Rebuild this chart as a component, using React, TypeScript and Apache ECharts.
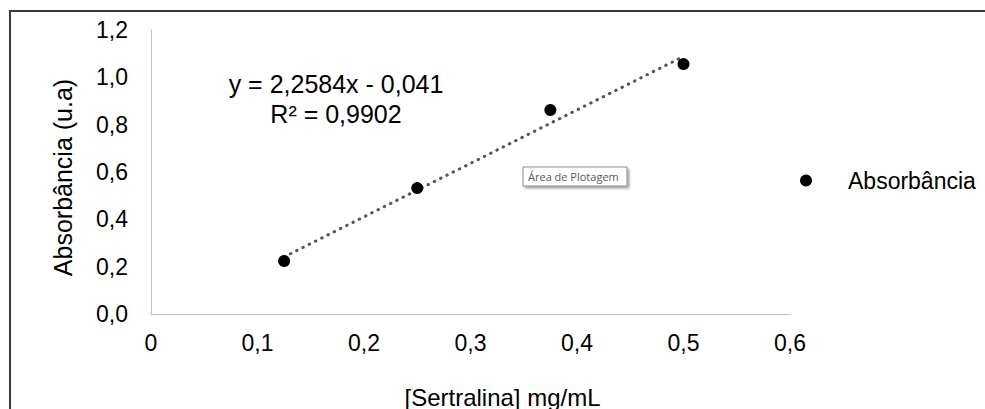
import React, { useEffect, useRef } from "react";
import * as echarts from "echarts";

const concentrations = [0.125, 0.25, 0.375, 0.5];
const absorbance = [0.224, 0.532, 0.862, 1.056];
const trendSlope = 2.2584;
const trendIntercept = -0.041;
const seriesName = "Absorbância";
const xTitle = "[Sertralina] mg/mL";
const yTitle = "Absorbância (u.a)";
const equationText = "y = 2,2584x - 0,041\nR² = 0,9902";
const tooltipText = "Área de Plotagem";

const FONT = "Liberation Sans, Arial, sans-serif";

const fmt = (v: number, zeroPlain: boolean) =>
  zeroPlain && v === 0 ? "0" : v.toFixed(1).replace(".", ",");

export default function App() {
  const ref = useRef<HTMLDivElement>(null);
  useEffect(() => {
    if (!ref.current) return;
    const chart = echarts.init(ref.current, undefined, { renderer: "svg" });
    const xs = [concentrations[0], concentrations[concentrations.length - 1]];
    const trend = xs.map((x) => [x, trendSlope * x + trendIntercept]);
    chart.setOption({
      animation: false,
      backgroundColor: "#ffffff",
      textStyle: { fontFamily: FONT },
      grid: {
        left: 151,
        top: 30,
        right: 195,
        bottom: 95,
        containLabel: false,
        outerBoundsMode: "none",
      },
      xAxis: {
        type: "value",
        min: 0,
        max: 0.6,
        interval: 0.1,
        name: xTitle,
        nameLocation: "middle",
        nameGap: 71,
        nameTextStyle: { fontSize: 24, color: "#000", fontFamily: FONT, padding: [0, 0, 0, 64] },
        axisLine: { show: true, lineStyle: { color: "#c0c0c0", width: 1 } },
        axisTick: { show: false },
        splitLine: { show: false },
        axisLabel: {
          fontSize: 23,
          color: "#000",
          fontFamily: FONT,
          margin: 17,
          formatter: (v: number) => fmt(v, true),
        },
      },
      yAxis: {
        type: "value",
        min: 0,
        max: 1.2,
        interval: 0.2,
        name: yTitle,
        nameLocation: "middle",
        nameGap: 76,
        nameTextStyle: { fontSize: 25, color: "#000", fontFamily: FONT, padding: [0, 11, 0, 0] },
        axisLine: { show: true, lineStyle: { color: "#c0c0c0", width: 1 } },
        axisTick: { show: false },
        splitLine: { show: false },
        axisLabel: {
          fontSize: 23,
          color: "#000",
          fontFamily: FONT,
          margin: 23,
          formatter: (v: number) => fmt(v, false),
        },
      },
      legend: {
        data: [seriesName],
        left: 800,
        top: 169,
        padding: 0,
        icon: "circle",
        itemWidth: 12,
        itemHeight: 12,
        textStyle: { fontSize: 23, color: "#000", fontFamily: FONT, padding: [0, 0, 0, 31] },
      },
      series: [
        {
          name: "Linear",
          type: "line",
          data: trend,
          showSymbol: false,
          symbol: "none",
          lineStyle: { color: "#555555", width: 3, type: [0.5, 6.5], cap: "round" },
          z: 1,
        },
        {
          name: seriesName,
          type: "scatter",
          data: concentrations.map((c, i) => [c, absorbance[i]]),
          symbol: "circle",
          symbolSize: 12,
          itemStyle: { color: "#000000", opacity: 1 },
          z: 2,
        },
      ],
      graphic: [
        {
          type: "rect",
          shape: { x: 10, y: 11, width: 1200, height: 600 },
          style: { fill: "none", stroke: "#3a3a3a", lineWidth: 2 },
          silent: true,
        },
        {
          type: "text",
          x: 336,
          y: 69,
          style: {
            text: equationText,
            fontSize: 25,
            fontFamily: FONT,
            fill: "#000",
            align: "center",
            verticalAlign: "top",
            lineHeight: 30,
          },
        },
        {
          type: "group",
          children: [
            {
              type: "rect",
              shape: { x: 523, y: 167, width: 104, height: 19 },
              style: {
                fill: "#ffffff",
                stroke: "#8a8a8a",
                lineWidth: 1,
                shadowColor: "rgba(0,0,0,0.35)",
                shadowBlur: 2,
                shadowOffsetX: 2,
                shadowOffsetY: 2,
              },
            },
            {
              type: "text",
              x: 528,
              y: 176.5,
              style: {
                text: tooltipText,
                fontSize: 11,
                fontFamily: "Open Sans, Noto Sans, sans-serif",
                fill: "#595959",
                verticalAlign: "middle",
              },
            },
          ],
        },
      ],
    });
    return () => chart.dispose();
  }, []);
  return (
    <div
      ref={ref}
      style={{ position: "fixed", left: 0, top: 0, width: 985, height: 409 }}
    />
  );
}
